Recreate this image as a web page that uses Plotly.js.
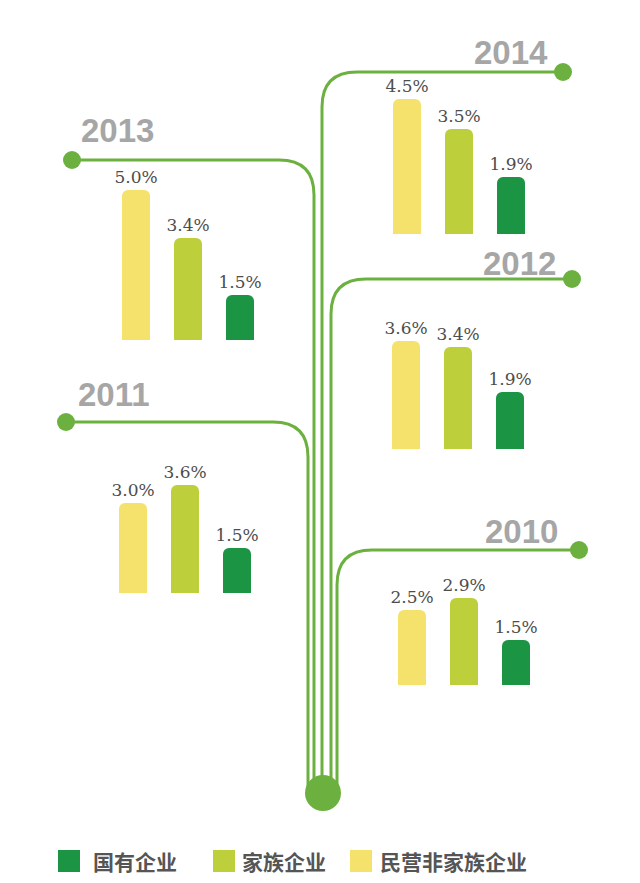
<!DOCTYPE html>
<html>
<head>
<meta charset="utf-8">
<script src="https://cdn.plot.ly/plotly-3.0.1.min.js"></script>
<style>html,body{margin:0;padding:0;background:#fff}#chart{width:640px;height:883px}</style>
</head>
<body>
<div id="chart"></div>
<script>
// ---- data ----
const years = ['2010', '2011', '2012', '2013', '2014'];
const categories = ['民营非家族企业', '家族企业', '国有企业'];
const privateNonFamily = [2.5, 3.0, 3.6, 5.0, 4.5];
const family = [2.9, 3.6, 3.4, 3.4, 3.5];
const stateOwned = [1.5, 1.5, 1.9, 1.5, 1.9];
const legendOrder = ['国有企业', '家族企业', '民营非家族企业'];

// ---- styles / positions (pixels) ----
const W = 640, H = 883;
const colors = {'民营非家族企业': '#f5e26c', '家族企业': '#bdd03c', '国有企业': '#1b9444'};
const lineGreen = '#6cb13f';
const SPACING = 52, PX_PER_UNIT = 30, YMAX = 5.5;
const groups = {
  '2010': {cx: 464, base: 685, dotX: 579, y: 550, trunk: 337, lx: 560, ly: 531, anchor: 'right'},
  '2011': {cx: 185, base: 593, dotX: 66,  y: 422, trunk: 308, lx: 76,  ly: 394, anchor: 'left'},
  '2012': {cx: 458, base: 449, dotX: 572, y: 279, trunk: 331, lx: 558, ly: 263, anchor: 'right'},
  '2013': {cx: 188, base: 340, dotX: 72,  y: 160, trunk: 314, lx: 79,  ly: 130, anchor: 'left'},
  '2014': {cx: 459, base: 234, dotX: 563, y: 72,  trunk: 322, lx: 550, ly: 52,  anchor: 'right'}
};
const legendPos = [{sx: 58, tx: 91}, {sx: 213, tx: 240}, {sx: 350, tx: 378}];
const legendY = 861;

const traces = [];
const layout = {
  width: W, height: H,
  margin: {l: 0, r: 0, t: 0, b: 0},
  paper_bgcolor: '#ffffff', plot_bgcolor: 'rgba(0,0,0,0)',
  showlegend: false,
  bargap: 1 - 28 / SPACING,
  shapes: [], annotations: []
};

// full-page pixel axis for decorations
const pageN = years.length + 1;
layout['xaxis' + pageN] = {domain: [0, 1], range: [0, W], visible: false, fixedrange: true, anchor: 'y' + pageN};
layout['yaxis' + pageN] = {domain: [0, 1], range: [H, 0], visible: false, fixedrange: true, anchor: 'x' + pageN};
const px = 'x' + pageN, py = 'y' + pageN;
traces.push({type: 'scatter', x: [], y: [], xaxis: px, yaxis: py, hoverinfo: 'skip'});

years.forEach((yr, i) => {
  const g = groups[yr];
  const n = i + 1;
  const vals = [privateNonFamily[i], family[i], stateOwned[i]];
  const halfW = SPACING * 1.5;
  const hPx = YMAX * PX_PER_UNIT;
  layout['xaxis' + n] = {domain: [(g.cx - halfW) / W, (g.cx + halfW) / W], anchor: 'y' + n,
    visible: false, range: [-0.5, 2.5], type: 'category', fixedrange: true};
  layout['yaxis' + n] = {domain: [1 - g.base / H, 1 - (g.base - hPx) / H], anchor: 'x' + n,
    visible: false, range: [0, YMAX], fixedrange: true};
  traces.push({
    type: 'bar', x: categories, y: vals, xaxis: 'x' + n, yaxis: 'y' + n,
    marker: {color: categories.map(c => colors[c]), cornerradius: 6, line: {width: 0}},
    texttemplate: '%{y:.1f}%', textposition: 'outside', cliponaxis: false, constraintext: 'none',
    textfont: {family: 'DejaVu Serif', size: 17, color: '#4d4d4d'},
    hoverinfo: 'x+y'
  });

  // branch line
  const r = 35;
  let path;
  if (g.anchor === 'right') {
    path = `M ${g.dotX},${g.y} L ${g.trunk + r},${g.y} Q ${g.trunk},${g.y} ${g.trunk},${g.y + r} L ${g.trunk},788`;
  } else {
    path = `M ${g.dotX},${g.y} L ${g.trunk - r},${g.y} Q ${g.trunk},${g.y} ${g.trunk},${g.y + r} L ${g.trunk},788`;
  }
  layout.shapes.push({type: 'path', xref: px, yref: py, path: path, line: {color: lineGreen, width: 3}});
  layout.shapes.push({type: 'circle', xref: px, yref: py, x0: g.dotX - 9, x1: g.dotX + 9, y0: g.y - 9, y1: g.y + 9,
    fillcolor: lineGreen, line: {width: 0}});
  layout.annotations.push({xref: px, yref: py, x: g.lx, y: g.ly, xanchor: g.anchor, yanchor: 'middle',
    text: '<b>' + yr + '</b>', showarrow: false, font: {family: 'Liberation Sans', size: 33, color: '#a6a6a6'}});
});

// trunk base
layout.shapes.push({type: 'circle', xref: px, yref: py, x0: 305, x1: 341, y0: 775, y1: 811,
  fillcolor: lineGreen, line: {width: 0}});

// legend
legendOrder.forEach((name, i) => {
  const p = legendPos[i];
  layout.shapes.push({type: 'rect', xref: px, yref: py, x0: p.sx, x1: p.sx + 22, y0: legendY - 11, y1: legendY + 11,
    fillcolor: colors[name], line: {width: 0}});
  layout.annotations.push({xref: px, yref: py, x: p.tx, y: legendY, xanchor: 'left', yanchor: 'middle',
    text: '<b>' + name + '</b>', showarrow: false,
    font: {family: 'Noto Sans CJK SC', size: 21, color: '#555555'}});
});

Plotly.newPlot('chart', traces, layout, {displayModeBar: false, staticPlot: true});
</script>
</body>
</html>
